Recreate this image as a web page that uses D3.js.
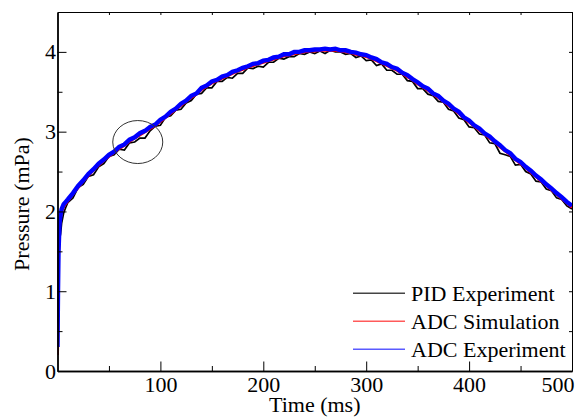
<!DOCTYPE html>
<html>
<head>
<meta charset="utf-8">
<script src="https://cdn.jsdelivr.net/npm/d3@7"></script>
<style>
  body { margin: 0; background: #fff; }
  text { font-family: "Liberation Serif", "Times New Roman", serif; }
</style>
</head>
<body>
<div id="chart"></div>
<script>
// time axis (ms)
var timeMs = [0, 0.5, 1, 2, 3, 4, 6, 8,
  10, 15, 20, 25, 30, 35, 40, 45, 50, 55, 60, 65, 70, 75, 80, 85, 90, 95,
  100, 105, 110, 115, 120, 125, 130, 135, 140, 145, 150, 155, 160, 165, 170, 175, 180, 185, 190, 195,
  200, 205, 210, 215, 220, 225, 230, 235, 240, 245, 250, 255, 260, 265, 270, 275, 280, 285, 290, 295,
  300, 305, 310, 315, 320, 325, 330, 335, 340, 345, 350, 355, 360, 365, 370, 375, 380, 385, 390, 395,
  400, 405, 410, 415, 420, 425, 430, 435, 440, 445, 450, 455, 460, 465, 470, 475, 480, 485, 490, 495, 500];

// pressure (mPa)
var pidExperiment = [0.6, 1.2, 1.4, 1.65, 1.72, 1.85, 1.98, 2.05,
  2.11, 2.17, 2.30, 2.34, 2.44, 2.46, 2.56, 2.60, 2.69, 2.71, 2.78, 2.77, 2.86, 2.87, 2.92, 2.92, 3.01, 3.07,
  3.08, 3.18, 3.20, 3.27, 3.28, 3.36, 3.39, 3.47, 3.48, 3.55, 3.55, 3.63, 3.63, 3.68, 3.67, 3.73, 3.73, 3.80, 3.79, 3.82,
  3.81, 3.87, 3.87, 3.92, 3.91, 3.94, 3.94, 3.98, 3.97, 4.00, 3.98, 4.01, 3.98, 4.02, 4.00, 4.00, 3.97, 3.98, 3.93, 3.95,
  3.89, 3.90, 3.83, 3.85, 3.77, 3.77, 3.72, 3.72, 3.64, 3.63, 3.54, 3.54, 3.47, 3.45, 3.38, 3.37, 3.28, 3.26, 3.17, 3.15,
  3.06, 3.05, 2.97, 2.96, 2.86, 2.85, 2.73, 2.71, 2.69, 2.58, 2.59, 2.50, 2.47, 2.38, 2.37, 2.28, 2.26, 2.17, 2.15, 2.07, 2.03];

var adcSimulation = [0.2, 0.9, 1.45, 1.83, 1.94, 2.0, 2.06, 2.1,
  2.13, 2.22, 2.30, 2.38, 2.45, 2.52, 2.58, 2.64, 2.69, 2.74, 2.79, 2.83, 2.88, 2.92, 2.96, 3.00, 3.04, 3.08,
  3.13, 3.18, 3.23, 3.28, 3.33, 3.38, 3.43, 3.47, 3.53, 3.57, 3.61, 3.64, 3.67, 3.70, 3.73, 3.76, 3.78, 3.81, 3.83, 3.85,
  3.87, 3.89, 3.91, 3.93, 3.95, 3.96, 3.98, 3.99, 4.00, 4.01, 4.01, 4.02, 4.02, 4.02, 4.02, 4.01, 4.00, 3.99, 3.97, 3.96,
  3.94, 3.92, 3.89, 3.86, 3.83, 3.80, 3.77, 3.73, 3.69, 3.65, 3.60, 3.56, 3.52, 3.47, 3.43, 3.38, 3.33, 3.28, 3.23, 3.17,
  3.12, 3.07, 3.02, 2.97, 2.92, 2.87, 2.81, 2.76, 2.71, 2.65, 2.60, 2.55, 2.49, 2.44, 2.38, 2.33, 2.27, 2.22, 2.16, 2.11, 2.05];

var adcExperiment = [0.3, 1.0, 1.5, 1.85, 1.96, 2.03, 2.09, 2.12,
  2.15, 2.23, 2.32, 2.39, 2.47, 2.53, 2.60, 2.65, 2.71, 2.75, 2.81, 2.84, 2.90, 2.93, 2.98, 3.01, 3.06, 3.09,
  3.15, 3.19, 3.25, 3.29, 3.35, 3.39, 3.45, 3.48, 3.55, 3.58, 3.63, 3.65, 3.69, 3.71, 3.75, 3.77, 3.80, 3.82, 3.85, 3.86,
  3.89, 3.90, 3.93, 3.94, 3.97, 3.97, 4.00, 4.00, 4.02, 4.02, 4.03, 4.03, 4.04, 4.03, 4.04, 4.02, 4.02, 4.00, 3.99, 3.97,
  3.96, 3.93, 3.91, 3.87, 3.85, 3.81, 3.79, 3.74, 3.71, 3.66, 3.62, 3.57, 3.54, 3.48, 3.45, 3.39, 3.35, 3.29, 3.25, 3.18,
  3.14, 3.08, 3.04, 2.98, 2.94, 2.88, 2.83, 2.77, 2.73, 2.66, 2.62, 2.56, 2.51, 2.45, 2.40, 2.34, 2.29, 2.23, 2.18, 2.12, 2.07];

var seriesNames = ["PID Experiment", "ADC Simulation", "ADC Experiment"];
var xMajorTicks = [100, 200, 300, 400, 500];
var xMinorTicks = [50, 150, 250, 350, 450];
var yMajorTicks = [0, 1, 2, 3, 4];
var yMinorTicks = [0.5, 1.5, 2.5, 3.5];
// the circled spot (ms, mPa)
var markedPoint = [78, 2.87];

var width = 576, height = 419;
var margin = {top: 12, right: 4, bottom: 48, left: 57.5};
var innerW = width - margin.left - margin.right;
var innerH = height - margin.top - margin.bottom;

var svg = d3.select("#chart").append("svg")
    .attr("width", width)
    .attr("height", height);

var g = svg.append("g")
    .attr("transform", "translate(" + margin.left + "," + margin.top + ")");

var x = d3.scaleLinear().domain([0, 500]).range([0, innerW]);
var y = d3.scaleLinear().domain([0, 4.5]).range([innerH, 0]);

g.append("defs").append("clipPath").attr("id", "clip")
    .append("rect").attr("width", innerW).attr("height", innerH);

// lines
var lineData = [
    {name: seriesNames[0], values: pidExperiment, color: "#000", w: 1.7, key: "#444"},
    {name: seriesNames[1], values: adcSimulation, color: "#ff0000", w: 3, key: "#ff5a5a"},
    {name: seriesNames[2], values: adcExperiment, color: "#0000ff", w: 4.4, key: "#5a5aff"}
];

var line = d3.line()
    .x(function(d, i) { return x(timeMs[i]); })
    .y(function(d) { return y(d); });

g.append("g").attr("clip-path", "url(#clip)")
    .selectAll("path")
    .data(lineData)
    .join("path")
    .attr("fill", "none")
    .attr("stroke", d => d.color)
    .attr("stroke-width", d => d.w)
    .attr("stroke-linejoin", "miter")
    .attr("d", d => line(d.values));

// circle mark
g.append("ellipse")
    .attr("cx", x(markedPoint[0]))
    .attr("cy", y(markedPoint[1]))
    .attr("rx", 25)
    .attr("ry", 21.5)
    .attr("fill", "none")
    .attr("stroke", "#333")
    .attr("stroke-width", 1);

// axes
function styleAxis(sel, w) {
    sel.select(".domain").attr("stroke", "#000").attr("stroke-width", w);
    sel.selectAll(".tick line").attr("stroke", "#000").attr("stroke-width", 1);
    sel.selectAll("text")
        .style("font-family", '"Liberation Serif", "Times New Roman", serif')
        .style("font-size", "22px")
        .attr("fill", "#000");
}

var xAxis = g.append("g")
    .attr("transform", "translate(0," + innerH + ")")
    .call(d3.axisBottom(x).tickValues(xMajorTicks).tickSize(-9.5).tickSizeOuter(0).tickPadding(5))
    .call(styleAxis, 1.4);
xAxis.selectAll(".tick text").filter(d => d === 500).attr("text-anchor", "end").attr("x", 2);

g.append("g")
    .attr("transform", "translate(0," + innerH + ")")
    .call(d3.axisBottom(x).tickValues(xMinorTicks).tickSize(-5).tickSizeOuter(0).tickFormat(""))
    .call(styleAxis, 1.4);

g.append("g")
    .call(d3.axisLeft(y).tickValues(yMajorTicks).tickFormat(d3.format("d"))
        .tickSize(-9).tickSizeOuter(0).tickPadding(1.5))
    .call(styleAxis, 1.4);

g.append("g")
    .call(d3.axisLeft(y).tickValues(yMinorTicks).tickSize(-5).tickSizeOuter(0).tickFormat(""))
    .call(styleAxis, 1.4);

// top and right frame
g.append("g")
    .call(d3.axisTop(x).tickValues(xMajorTicks.concat(xMinorTicks)).tickSize(-3).tickSizeOuter(0).tickFormat(""))
    .call(styleAxis, 1);

g.append("g")
    .attr("transform", "translate(" + innerW + ",0)")
    .call(d3.axisRight(y).tickValues(yMajorTicks.concat(yMinorTicks)).tickSize(-3).tickSizeOuter(0).tickFormat(""))
    .call(styleAxis, 1);

// axis titles
svg.append("text")
    .attr("x", margin.left + innerW / 2)
    .attr("y", 412)
    .attr("text-anchor", "middle")
    .style("font-size", "22px")
    .text("Time (ms)");

svg.append("text")
    .attr("transform", "translate(29,204) rotate(-90)")
    .attr("text-anchor", "middle")
    .style("font-size", "22px")
    .text("Pressure (mPa)");

// legend
var legend = svg.append("g");
var rows = legend.selectAll("g")
    .data(lineData)
    .join("g")
    .attr("transform", (d, i) => "translate(353," + (293.3 + i * 28) + ")");
rows.append("line")
    .attr("x1", 0).attr("x2", 52)
    .attr("stroke", d => d.key)
    .attr("stroke-width", 1.6);
rows.append("text")
    .attr("x", 58)
    .attr("y", 7.5)
    .style("font-size", "22px")
    .text(d => d.name);
</script>
</body>
</html>
